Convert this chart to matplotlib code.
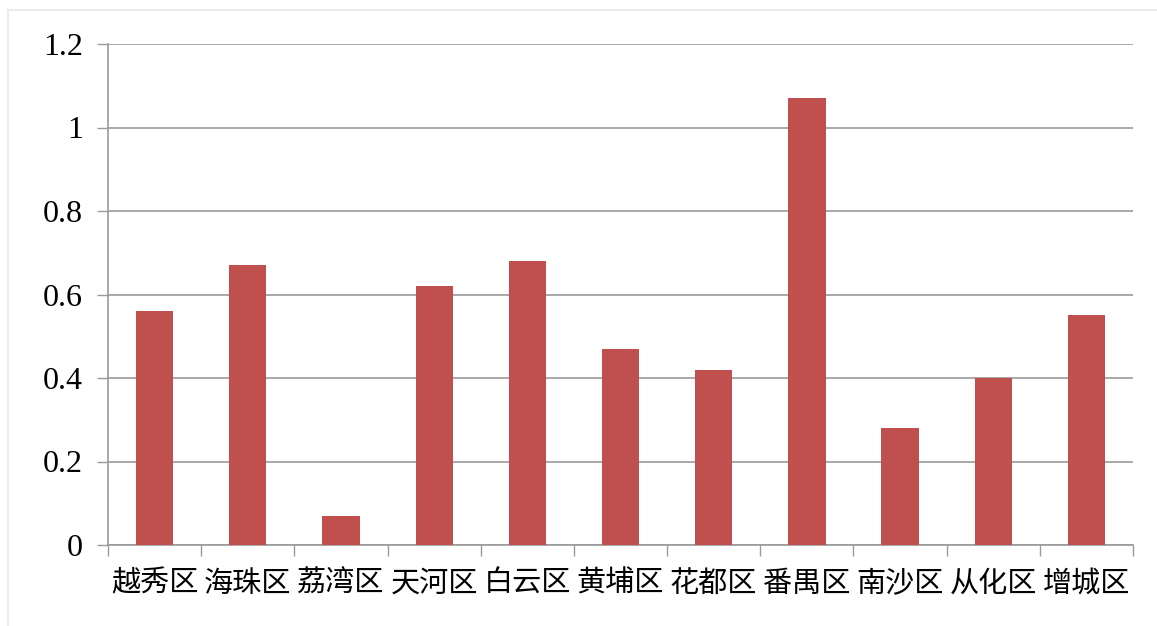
import matplotlib

matplotlib.use("Agg")
import matplotlib.pyplot as plt
import numpy as np
from matplotlib.lines import Line2D

districts = ["越秀区", "海珠区", "荔湾区", "天河区", "白云区", "黄埔区",
             "花都区", "番禺区", "南沙区", "从化区", "增城区"]
values = [0.56, 0.67, 0.07, 0.62, 0.68, 0.47, 0.42, 1.07, 0.28, 0.40, 0.55]
y_ticks = [0, 0.2, 0.4, 0.6, 0.8, 1.0, 1.2]
y_tick_labels = ["0", "0.2", "0.4", "0.6", "0.8", "1", "1.2"]

bar_color = "#C0504D"
grid_color = "#9A9A9A"

fig = plt.figure(figsize=(11.57, 6.26), dpi=100)
ax = fig.add_axes([108 / 1157, 1 - 545 / 626, (1133 - 108) / 1157, (545 - 44) / 626])

x = np.arange(len(districts))
ax.bar(x, values, width=0.4, color=bar_color, zorder=3)

ax.set_xlim(-0.5, len(districts) - 0.5)
ax.set_ylim(0, 1.2)
ax.set_yticks(y_ticks)
ax.set_yticklabels(y_tick_labels, family=["Liberation Serif"], fontsize=23)
ax.yaxis.grid(True, color=grid_color, linewidth=1.2, zorder=0)
ax.tick_params(axis="y", length=8, width=1.0, color=grid_color, pad=10)

# category ticks sit on the boundaries between bars
ax.set_xticks(np.arange(len(districts) + 1) - 0.5)
ax.set_xticklabels([])
ax.set_xticks(x, minor=True)
ax.set_xticklabels(districts, minor=True, family=["Noto Sans CJK SC"], fontsize=21)
ax.tick_params(axis="x", which="major", length=8, width=1.0, color=grid_color)
ax.tick_params(axis="x", which="minor", length=0, pad=17)

for side in ["top", "right"]:
    ax.spines[side].set_visible(False)
for side in ["left", "bottom"]:
    ax.spines[side].set_color(grid_color)
    ax.spines[side].set_linewidth(1.2)

# faint frame edges on the top and left
fig.add_artist(Line2D([8 / 1157, 1], [1 - 10 / 626, 1 - 10 / 626],
                      transform=fig.transFigure, color="#EBEBEB", linewidth=1.5))
fig.add_artist(Line2D([8 / 1157, 8 / 1157], [0, 1 - 10 / 626],
                      transform=fig.transFigure, color="#EBEBEB", linewidth=1.5))

fig.savefig("out.png", dpi=100, facecolor="white")
